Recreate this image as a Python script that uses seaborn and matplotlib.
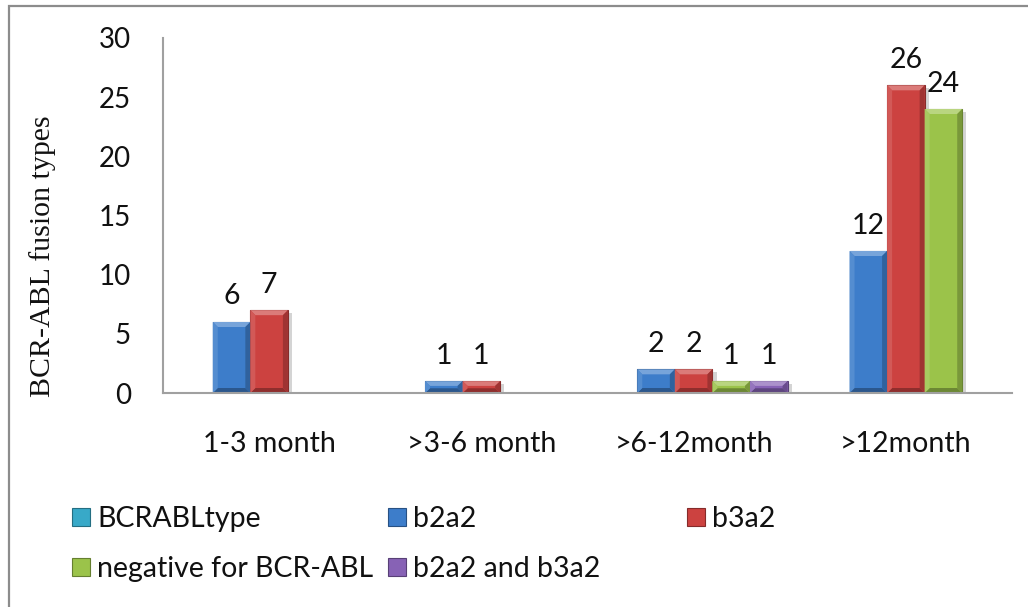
import matplotlib
matplotlib.use("Agg")
import matplotlib.pyplot as plt
import pandas as pd
import seaborn as sns
from matplotlib.patches import Polygon, Patch, Rectangle
from matplotlib import patheffects as pe
from matplotlib.colors import to_rgb

# ---- data -------------------------------------------------------------
categories = ["1-3 month", ">3-6 month", ">6-12month", ">12month"]
series = ["BCRABLtype", "b2a2", "b3a2", "negative for BCR-ABL", "b2a2 and b3a2"]
bcrabl_type = [None, None, None, None]
b2a2 = [6, 1, 2, 12]
b3a2 = [7, 1, 2, 26]
negative = [None, None, 1, 24]
b2a2_and_b3a2 = [None, None, 1, None]
y_ticks = [0, 5, 10, 15, 20, 25, 30]
y_label = "BCR-ABL fusion types"

colors = {
    "BCRABLtype": "#38A9C8",
    "b2a2": "#3D7DCA",
    "b3a2": "#CC4240",
    "negative for BCR-ABL": "#9BC34A",
    "b2a2 and b3a2": "#8762B5",
}

rows = []
for name, vals in zip(series, [bcrabl_type, b2a2, b3a2, negative, b2a2_and_b3a2]):
    for cat, v in zip(categories, vals):
        if v is not None:
            rows.append({"period": cat, "type": name, "count": v})
df = pd.DataFrame(rows)

# ---- style ------------------------------------------------------------
sns.set_style("white")
plt.rcParams["font.family"] = ["Lato", "DejaVu Sans"]
TXT = 20.5
W, H = 1028, 607

fig = plt.figure(figsize=(W / 100, H / 100), dpi=100)
ax = fig.add_axes([163 / W, 1 - 393 / H, (1012 - 163) / W, (393 - 38) / H])

sns.barplot(data=df, x="period", y="count", hue="type", order=categories,
            hue_order=series, palette=colors, width=0.885, gap=0,
            errorbar=None, legend=False, saturation=1, ax=ax)

ax.set_xlim(-0.5, 3.5)
ax.set_ylim(0, 30)
ax.set_yticks(y_ticks)
ax.set_yticklabels([str(t) for t in y_ticks])
ax.set_xlabel("")
ax.set_ylabel("")
ax.tick_params(axis="both", length=0, labelsize=TXT, colors="#111111")
ax.tick_params(axis="y", labelsize=20, pad=23)
ax.tick_params(axis="x", pad=27)
for s in ["top", "right"]:
    ax.spines[s].set_visible(False)
for s in ["left", "bottom"]:
    ax.spines[s].set_color("#a0a0a0")
    ax.spines[s].set_linewidth(1.5)
ax.grid(False)


def shade(c, f):
    r, g, b = to_rgb(c)
    if f >= 0:
        return (r + (1 - r) * f, g + (1 - g) * f, b + (1 - b) * f)
    return (r * (1 + f), g * (1 + f), b * (1 + f))


# bevelled look for the bars: lighter top/left facets, darker bottom/right
px_x = 4.0 / 849
px_y = 30.0 / 355
bev = 5
for p in list(ax.patches):
    x0, y0 = p.get_x(), p.get_y()
    w, h = p.get_width(), p.get_height()
    if not h or h != h:
        continue
    base = p.get_facecolor()
    p.set_edgecolor(shade(base, -0.35))
    p.set_linewidth(0.8)
    p.set_path_effects([pe.SimplePatchShadow(offset=(3, -2), alpha=0.25, shadow_rgbFace="#555555"), pe.Normal()])
    bx = bev * px_x
    by = min(bev * px_y, h / 2.5)
    x1, y1 = x0 + w, y0 + h
    facets = [
        ([(x0, y1), (x1, y1), (x1 - bx, y1 - by), (x0 + bx, y1 - by)], 0.30),
        ([(x0, y0), (x1, y0), (x1 - bx, y0 + by), (x0 + bx, y0 + by)], -0.30),
        ([(x0, y0), (x0, y1), (x0 + bx, y1 - by), (x0 + bx, y0 + by)], 0.12),
        ([(x1, y0), (x1, y1), (x1 - bx, y1 - by), (x1 - bx, y0 + by)], -0.22),
    ]
    for pts, f in facets:
        ax.add_patch(Polygon(pts, closed=True, facecolor=shade(base, f),
                             edgecolor="none", zorder=p.get_zorder() + 0.1))

for cont in ax.containers:
    ax.bar_label(cont, fmt="%g", padding=9, fontsize=TXT, color="#111111")

# axis title
fig.text(43 / W, 1 - 256 / H, y_label, rotation=90, ha="center", va="center",
         fontsize=21.5, family=["Liberation Serif", "DejaVu Serif"], color="#111111")

# legend entries laid out in two rows
legend_pos = {
    "BCRABLtype": (72, 519),
    "b2a2": (388, 519),
    "b3a2": (687, 519),
    "negative for BCR-ABL": (72, 569),
    "b2a2 and b3a2": (388, 569),
}
for name in series:
    px, py = legend_pos[name]
    handle = Patch(facecolor=colors[name], edgecolor=shade(colors[name], -0.35), linewidth=0.8)
    fig.legend(handles=[handle], labels=[name], loc="center left",
               bbox_to_anchor=(px / W, 1 - py / H), frameon=False,
               fontsize=TXT, borderpad=0, borderaxespad=0,
               handlelength=0.64, handleheight=0.64, handletextpad=0.25,
               labelcolor="#111111")

# outer chart frame
fig.add_artist(Rectangle((9 / W, -0.2), 1.3, 1 - 6 / H + 0.2, transform=fig.transFigure,
                         fill=False, edgecolor="#8c8c8c", linewidth=1.6, clip_on=False))

fig.savefig("out.png", dpi=100, facecolor="white")
